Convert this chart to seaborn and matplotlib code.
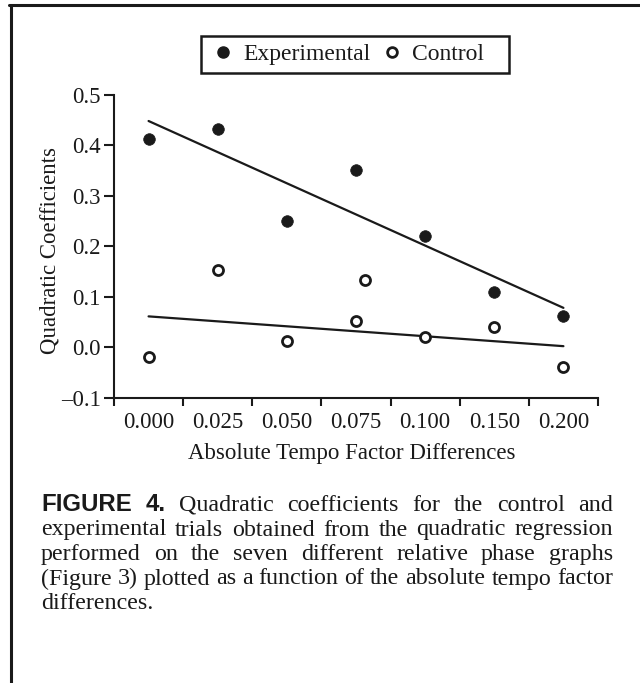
import numpy as np
import pandas as pd
import matplotlib
matplotlib.use("Agg")
import matplotlib.pyplot as plt
import seaborn as sns
from matplotlib.lines import Line2D
from matplotlib.patches import Rectangle

# ---------------- data ----------------
categories = ["0.000", "0.025", "0.050", "0.075", "0.100", "0.150", "0.200"]
exp_x = [0, 1, 2, 3, 4, 5, 6]
exp_y = [0.413, 0.433, 0.250, 0.352, 0.221, 0.110, 0.063]
ctrl_x = [0, 1, 2, 3, 4, 5, 6]
ctrl_y = [-0.019, 0.154, 0.013, 0.052, 0.021, 0.041, -0.038]
ctrl_extra_x = [3.13]
ctrl_extra_y = [0.134]
y_ticks = [-0.1, 0.0, 0.1, 0.2, 0.3, 0.4, 0.5]
y_tick_labels = ["\u20130.1", "0.0", "0.1", "0.2", "0.3", "0.4", "0.5"]
legend_labels = ["Experimental", "Control"]
x_label = "Absolute Tempo Factor Differences"
y_label = "Quadratic Coefficients"
caption_lines = [
    "Quadratic coefficients for the control and",
    "experimental trials obtained from the quadratic regression",
    "performed on the seven different relative phase graphs",
    "(Figure 3) plotted as a function of the absolute tempo factor",
    "differences.",
]

# ---------------- style ----------------
sns.set_theme(style="ticks")
plt.rcParams["font.family"] = ["Liberation Serif", "DejaVu Serif"]
INK = "#1a1a1a"
FS = 16.5
LFS = 17

W, H = 640, 683
fig = plt.figure(figsize=(W / 100, H / 100), dpi=100)
fig.patch.set_facecolor("white")

ax_l, ax_r, ax_t, ax_b = 114, 598, 94.7, 398
ax = fig.add_axes([ax_l / W, 1 - ax_b / H, (ax_r - ax_l) / W, (ax_b - ax_t) / H])
ax.set_facecolor("white")

# regression lines
sns.regplot(x=exp_x, y=exp_y, ax=ax, scatter=False, ci=None, truncate=True,
            line_kws=dict(color=INK, lw=1.6, zorder=2))
sns.regplot(x=ctrl_x, y=ctrl_y, ax=ax, scatter=False, ci=None, truncate=True,
            line_kws=dict(color=INK, lw=1.6, zorder=2))

# points
sns.scatterplot(x=exp_x, y=exp_y, ax=ax, s=70, color=INK, edgecolor=INK,
                linewidth=0.5, zorder=3, legend=False)
sns.scatterplot(x=ctrl_x + ctrl_extra_x, y=ctrl_y + ctrl_extra_y, ax=ax, s=52,
                color="white", edgecolor=INK, linewidth=2.0, zorder=3, legend=False)

ax.set_xlim(-0.5, 6.5)
ax.set_ylim(-0.1, 0.5)

ax.set_xticks(np.arange(-0.5, 7.0, 1.0))
ax.set_xticklabels([])
ax.set_xticks(range(len(categories)), minor=True)
ax.set_xticklabels(categories, minor=True, fontsize=FS)
ax.tick_params(axis="x", which="major", direction="out", length=6, width=1.5, color=INK)
ax.tick_params(axis="x", which="minor", length=0, pad=10, labelcolor=INK)

ax.set_yticks(y_ticks)
ax.set_yticklabels(y_tick_labels, fontsize=FS)
ax.tick_params(axis="y", direction="out", length=7, width=1.5, color=INK, pad=2.5, labelcolor=INK)

for s in ["top", "right"]:
    ax.spines[s].set_visible(False)
for s in ["left", "bottom"]:
    ax.spines[s].set_linewidth(1.5)
    ax.spines[s].set_color(INK)

ax.set_xlabel(x_label, fontsize=FS, color=INK)
ax.xaxis.label.set_va("center")
ax.xaxis.set_label_coords((351.4 - ax_l) / (ax_r - ax_l), (ax_b - 454) / (ax_b - ax_t))
ax.set_ylabel(y_label, fontsize=FS, color=INK)
ax.yaxis.label.set_va("center")
ax.yaxis.set_label_coords((50 - ax_l) / (ax_r - ax_l), (ax_b - 250) / (ax_b - ax_t))

# legend (entries via matplotlib legend, box drawn at its place in the page)
handles = [
    Line2D([], [], ls="none", marker="o", markersize=8, markerfacecolor=INK, markeredgecolor=INK),
    Line2D([], [], ls="none", marker="o", markersize=7, markerfacecolor="white",
           markeredgecolor=INK, markeredgewidth=2.0),
]
leg = ax.legend(handles, legend_labels, ncol=2, loc="center left",
                bbox_to_anchor=(201 / W, 1 - 54.5 / H), bbox_transform=fig.transFigure,
                frameon=False, fontsize=LFS, handlelength=1.3,
                handletextpad=0.2, columnspacing=0.25, borderpad=0.3, borderaxespad=0)
for t in leg.get_texts():
    t.set_color(INK)
fig.add_artist(Rectangle((201 / W, 1 - 73 / H), (509 - 201) / W, (73 - 36) / H,
                         transform=fig.transFigure, fill=False, edgecolor=INK, lw=1.8))

# page border (top and left)
fig.add_artist(Line2D([9 / W, 1], [1 - 5 / H, 1 - 5 / H], transform=fig.transFigure, color=INK, lw=2.2))
fig.add_artist(Line2D([10.5 / W, 10.5 / W], [0, 1 - 5 / H], transform=fig.transFigure, color=INK, lw=2.2))

# ---------------- justified caption ----------------
renderer = fig.canvas.get_renderer()
cap_left, cap_right = 41, 613
baselines = [511, 535.5, 560, 584.5, 609]

def text_w(s, size, **kw):
    t = fig.text(0, 0, s, fontsize=size, **kw)
    w = t.get_window_extent(renderer).width
    t.remove()
    return w

ref_w = text_w(caption_lines[3], 10)
CFS = 10 * (cap_right - cap_left) / ref_w

bold_kw = dict(family=["Liberation Sans", "DejaVu Sans"], weight="bold")
for i, line in enumerate(caption_lines):
    words = [(w, {}) for w in line.split(" ")]
    if i == 0:
        words = [("FIGURE", bold_kw), ("4.", bold_kw)] + words
    widths = [text_w(w, CFS, **kw) for w, kw in words]
    y = 1 - baselines[i] / H
    if i == len(caption_lines) - 1:
        fig.text(cap_left / W, y, line, fontsize=CFS, color=INK, va="baseline", ha="left")
        continue
    gap = (cap_right - cap_left - sum(widths)) / (len(words) - 1)
    x = cap_left
    for (w, kw), wd in zip(words, widths):
        fig.text(x / W, y, w, fontsize=CFS, color=INK, va="baseline", ha="left", **kw)
        x += wd + gap

fig.savefig("out.png", dpi=100, facecolor="white")
